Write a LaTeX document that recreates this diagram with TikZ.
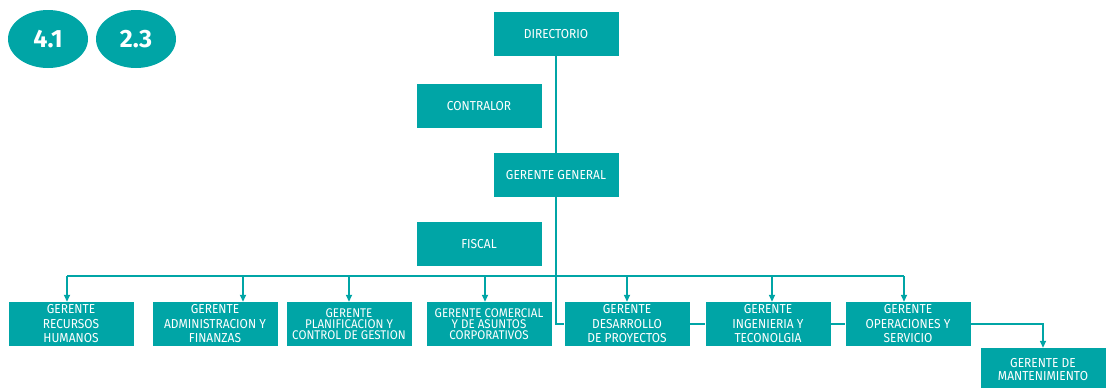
\documentclass[tikz,border=0pt]{standalone}
\usepackage{fontspec}
\setmainfont{Fira Sans}[FakeStretch=0.92]
\newfontfamily\sellofont{Fira Sans}
\usepackage{tikz}
\usetikzlibrary{arrows.meta}
\usetikzlibrary{shapes.geometric}
\definecolor{orgteal}{RGB}{0,165,166}
\tikzset{
	cargo/.style={fill=orgteal,text=white,minimum width=125pt,minimum height=44pt,
		inner sep=0pt,align=center,font=\fontsize{13}{14.5}\selectfont},
	cargoapretado/.style={cargo,font=\fontsize{12.6}{10.8}\selectfont},
	sello/.style={ellipse,fill=orgteal,text=white,minimum width=80pt,minimum height=58pt,
		inner sep=0pt,font=\sellofont\fontsize{25}{25}\selectfont\bfseries},
	enlace/.style={draw=orgteal,line width=1.6pt},
	baja/.style={enlace,-{Triangle[width=6pt,length=7pt]}}
	}

\begin{document}
\begin{tikzpicture}[x=1pt,y=-1pt]
					\useasboundingbox (0,0) rectangle (1108,388);
					\node[sello] (s41) at (48,39) {4.1};
					\node[sello] (s23) at (136,39) {2.3};
					\node[cargo] (dir) at (556,34) {DIRECTORIO};
					\node[cargo] (contralor) at (479,106) {CONTRALOR};
					\node[cargo] (gg) at (556,175) {GERENTE GENERAL};
					\node[cargo] (fiscal) at (479,244) {FISCAL};
					\node[cargo] (rrhh) at (71,324) {GERENTE\\RECURSOS\\HUMANOS};
					\node[cargo] (adm) at (215,324) {GERENTE\\ADMINISTRACION Y\\FINANZAS};
					\node[cargoapretado] (plan) at (349,324) {GERENTE\\PLANIFICACION Y\\CONTROL DE GESTION};
					\node[cargoapretado] (com) at (489,324) {GERENTE COMERCIAL\\Y DE ASUNTOS\\CORPORATIVOS};
					\node[cargo] (des) at (627,324) {GERENTE\\DESARROLLO\\DE PROYECTOS};
					\node[cargo] (ing) at (768,324) {GERENTE\\INGENIERIA Y\\TECONOLGIA};
					\node[cargo] (ope) at (908,324) {GERENTE\\OPERACIONES Y\\SERVICIO};
					\node[cargo,font=\fontsize{13}{13}\selectfont] (man) at (1043,370) {GERENTE DE\\MANTENIMIENTO};
					\coordinate (bus) at (556,276);
					\draw[enlace] (dir.south) -- (gg.north);
					\draw[enlace] (gg.south) |- (des.west);
					\draw[enlace] ([xshift=-4pt]rrhh.north |- bus) -- ([xshift=-4pt]ope.north |- bus);
					\draw[baja] ([xshift=-4pt]rrhh.north |- bus) -- ([xshift=-4pt]rrhh.north);
					\draw[baja] ([xshift=28pt]adm.north |- bus) -- ([xshift=28pt]adm.north);
					\draw[baja] (plan.north |- bus) -- (plan.north);
					\draw[baja] ([xshift=-4pt]com.north |- bus) -- ([xshift=-4pt]com.north);
					\draw[baja] (des.north |- bus) -- (des.north);
					\draw[baja] ([xshift=4pt]ing.north |- bus) -- ([xshift=4pt]ing.north);
					\draw[baja] ([xshift=-4pt]ope.north |- bus) -- ([xshift=-4pt]ope.north);
					\draw[enlace] (des.east) -- (ing.west);
					\draw[enlace] (ing.east) -- (ope.west);
					\draw[baja] (ope.east) -| (man.north);
				\end{tikzpicture}
\end{document}
